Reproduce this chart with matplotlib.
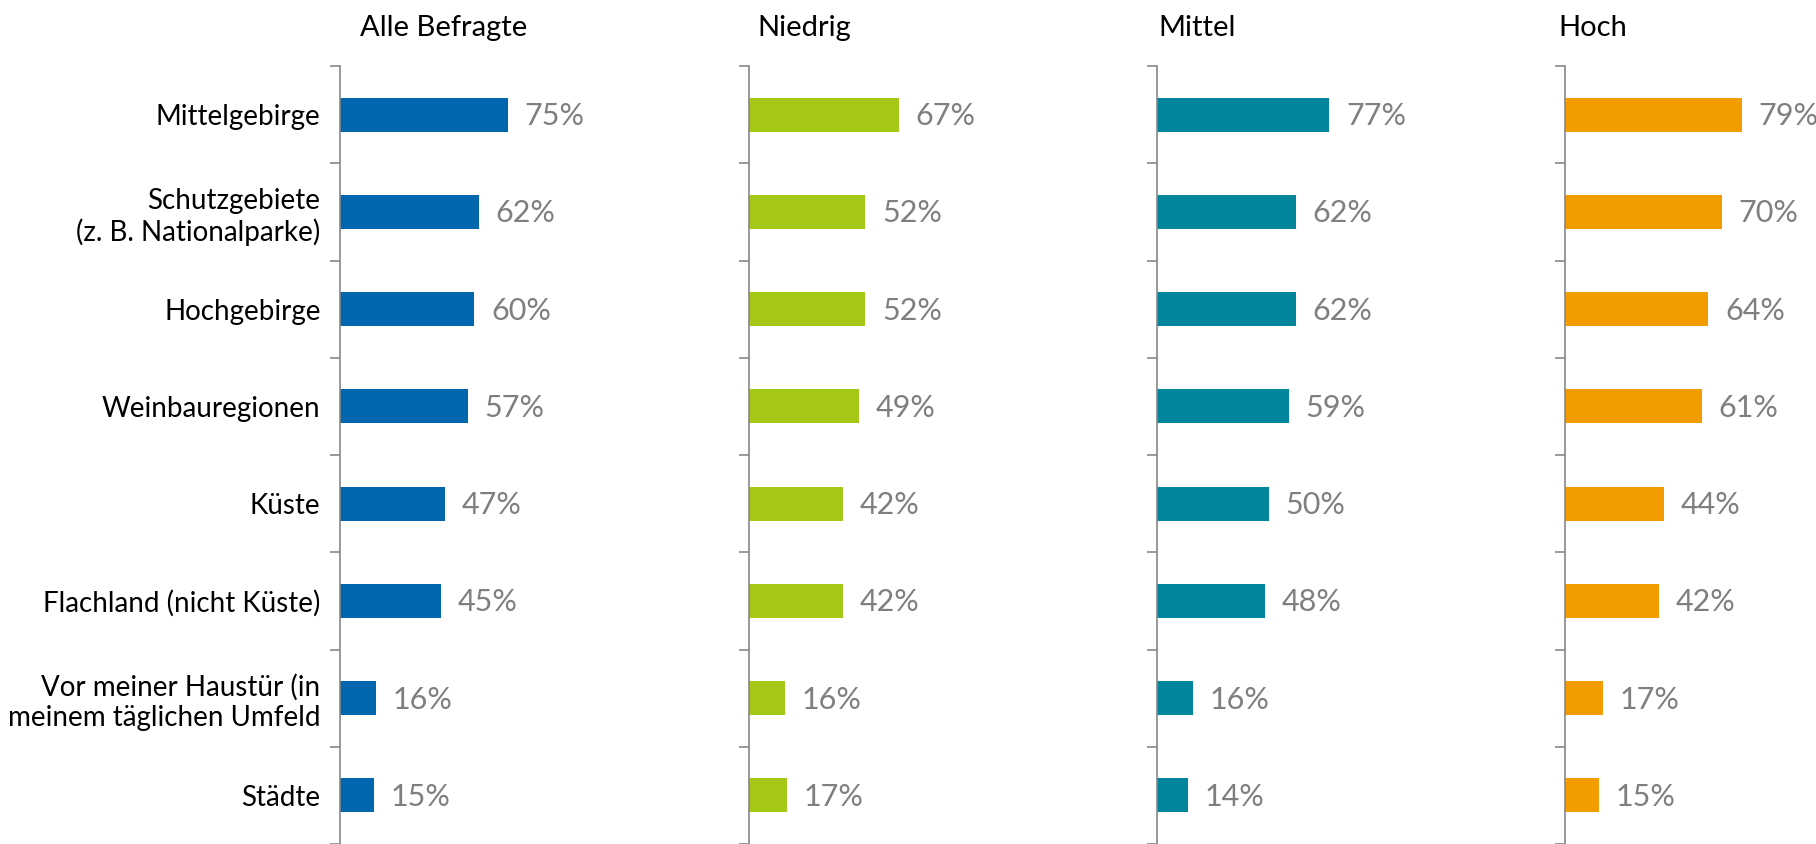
import matplotlib
matplotlib.use("Agg")
from matplotlib import pyplot as plt
import numpy as np

plt.rcParams['font.family'] = ['Lato', 'DejaVu Sans']

# categories (top to bottom)
regionen = ['Mittelgebirge', 'Schutzgebiete\n(z. B. Nationalparke)', 'Hochgebirge',
            'Weinbauregionen', 'Küste', 'Flachland (nicht Küste)',
            'Vor meiner Haustür (in\nmeinem täglichen Umfeld', 'Städte']

gruppen = ['Alle Befragte', 'Niedrig', 'Mittel', 'Hoch']
alle = [75, 62, 60, 57, 47, 45, 16, 15]
niedrig = [67, 52, 52, 49, 42, 42, 16, 17]
mittel = [77, 62, 62, 59, 50, 48, 16, 14]
hoch = [79, 70, 64, 61, 44, 42, 17, 15]
farben = ['#0066ae', '#a5c816', '#00859b', '#f39c00']

werte = [alle, niedrig, mittel, hoch]

W, H = 1816, 844
fig = plt.figure(figsize=(W/100, H/100), dpi=100)

ax_left = [340, 749, 1157, 1565]     # axis line x in px
title_left = [360, 757, 1158, 1558]
top = 66
px_per_pct = 2.24

y = np.arange(len(regionen))
for i in range(4):
    ax = fig.add_axes([ax_left[i]/W, 0, 100*px_per_pct/W, (H-top)/H])
    ax.barh(y, werte[i], height=0.35, color=farben[i])
    ax.set_xlim(0, 100)
    ax.set_ylim(len(regionen)-0.5, -0.5)
    for s in ['top', 'right', 'bottom']:
        ax.spines[s].set_visible(False)
    ax.spines['left'].set_color('#878787')
    ax.spines['left'].set_linewidth(1.2)
    ax.set_xticks([])
    # boundary ticks
    ax.set_yticks(np.arange(len(regionen)+1)-0.5)
    ax.set_yticklabels([])
    ax.tick_params(axis='y', which='major', length=7, width=1.2, color='#878787')
    if i == 0:
        ax.set_yticks(y, minor=True)
        ax.set_yticklabels(regionen, minor=True, fontsize=20, ha='right',
                           multialignment='right')
        ax.tick_params(axis='y', which='minor', length=0, pad=14)
    for yy, v in zip(y, werte[i]):
        ax.annotate('%d%%' % v, (v, yy), xytext=(12, -1), textcoords='offset points',
                    va='center', ha='left', fontsize=22, color='#7f7f7f',
                    annotation_clip=False)
    fig.text(title_left[i]/W, 1 - 36/H, gruppen[i], fontsize=21, ha='left',
             va='baseline', color='black')

plt.savefig('out.png', dpi=100)
